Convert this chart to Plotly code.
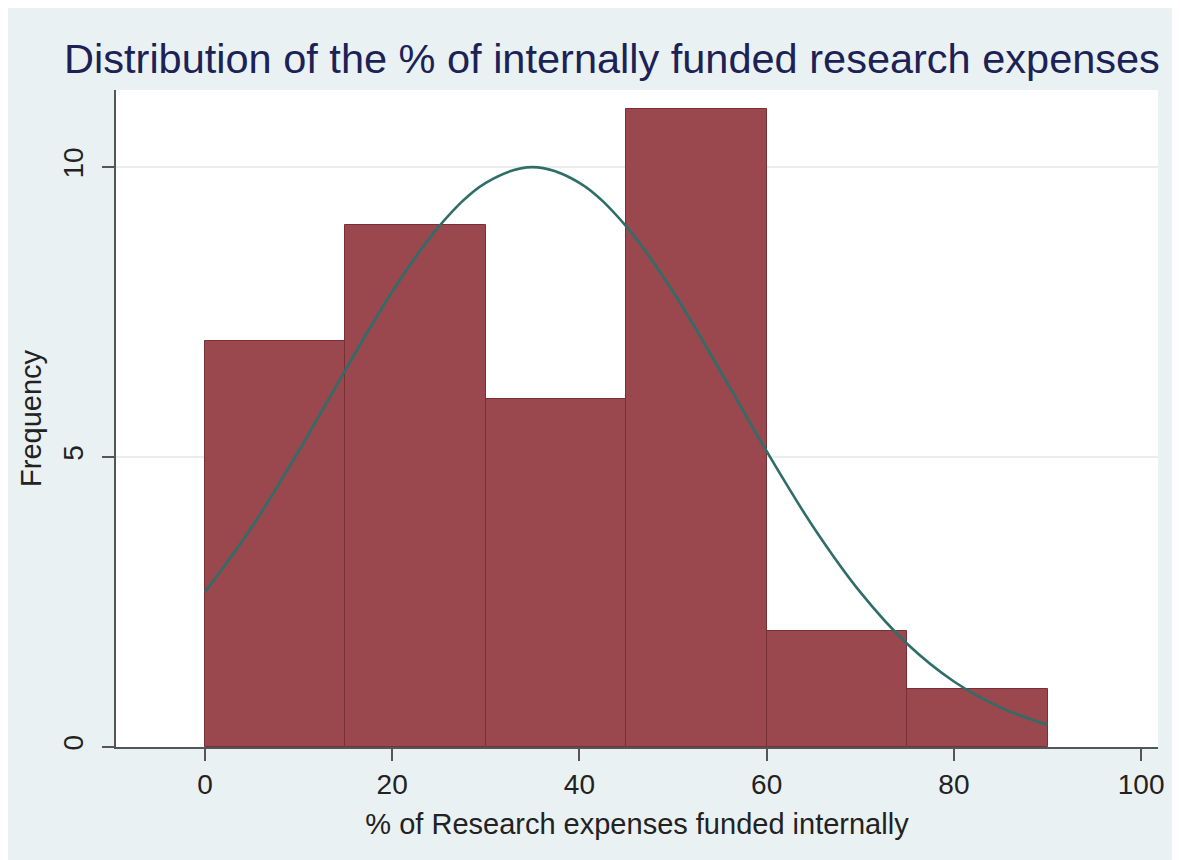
import plotly.graph_objects as go

# histogram bins (% funded internally) and frequencies
bin_edges = [0, 15, 30, 45, 60, 75, 90]
frequencies = [7, 9, 6, 11, 2, 1]

# overlaid normal curve
curve_x = [0, 5, 10, 15, 20, 25, 30, 35, 40, 45, 50, 55, 60, 65, 70, 75, 80, 85, 90]
curve_y = [2.67, 3.79, 5.10, 6.50, 7.85, 8.98, 9.73, 10.0, 9.73, 8.98, 7.85, 6.50,
           5.10, 3.79, 2.67, 1.78, 1.13, 0.68, 0.38]

x_ticks = [0, 20, 40, 60, 80, 100]
y_ticks = [0, 5, 10]

BAR = "#9a474e"
BAR_EDGE = "#7a2e35"
CURVE = "#2f6e68"
BG = "#eaf1f3"
AXIS = "#555555"
FONT = "Liberation Sans, Arial, sans-serif"

centers = [(a + b) / 2 for a, b in zip(bin_edges[:-1], bin_edges[1:])]
widths = [b - a for a, b in zip(bin_edges[:-1], bin_edges[1:])]

fig = go.Figure()
fig.add_trace(go.Bar(x=centers, y=frequencies, width=widths,
                     marker={"color": BAR, "line": {"color": BAR_EDGE, "width": 1}},
                     showlegend=False))
fig.add_trace(go.Scatter(x=curve_x, y=curve_y, mode="lines",
                         line={"color": CURVE, "width": 2.6, "shape": "spline"},
                         showlegend=False))

fig.update_layout(
    width=1180, height=860,
    paper_bgcolor=BG, plot_bgcolor="white",
    margin={"l": 108, "r": 30, "t": 82, "b": 121},
    font={"family": FONT, "color": "#222222"},
    title={"text": "Distribution of the % of internally funded research expenses",
           "x": 604 / 1180, "xanchor": "center", "y": 1 - 50 / 860, "yanchor": "middle",
           "font": {"size": 41.5, "color": "#1c2256", "family": FONT}},
    bargap=0,
)
fig.update_xaxes(range=[-9.5, 101.8], tickvals=x_ticks, showgrid=False, zeroline=False,
                 showline=True, linecolor=AXIS, linewidth=1.5,
                 ticks="outside", ticklen=12, tickwidth=1.5, tickcolor=AXIS,
                 tickfont={"size": 28, "color": "#222222"},
                 title={"text": "% of Research expenses funded internally",
                        "font": {"size": 29, "color": "#222222"}, "standoff": 14})
fig.update_yaxes(range=[0, 11.33], tickvals=y_ticks, tickangle=-90,
                 showgrid=True, gridcolor="#ececec", gridwidth=1.5, zeroline=False,
                 showline=True, linecolor=AXIS, linewidth=1.5,
                 ticks="outside", ticklen=12, tickwidth=1.5, tickcolor=AXIS,
                 ticklabelstandoff=8,
                 tickfont={"size": 28, "color": "#222222"},
                 title={"text": "Frequency", "font": {"size": 29, "color": "#222222"},
                        "standoff": 8})

fig.write_html("out.html")
